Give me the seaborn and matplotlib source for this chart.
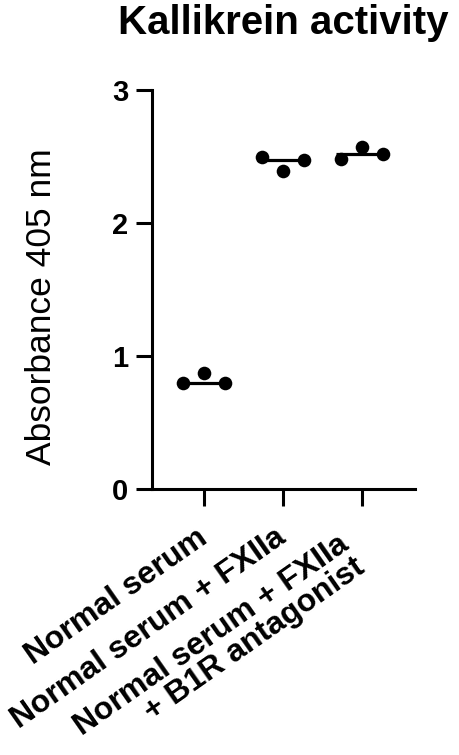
import matplotlib
matplotlib.use("Agg")
import matplotlib.pyplot as plt
import matplotlib.transforms as mtransforms
import seaborn as sns
import pandas as pd

# ---- data ----
groups = ["Normal serum", "Normal serum + FXIIa", "Normal serum + FXIIa\n+ B1R antagonist"]
rep1 = [0.80, 2.50, 2.48]
rep2 = [0.87, 2.39, 2.57]
rep3 = [0.80, 2.47, 2.52]
yticks = [0, 1, 2, 3]
title = "Kallikrein activity"
ylabel = "Absorbance 405 nm"

rows = []
for g, a, b, c in zip(groups, rep1, rep2, rep3):
    rows += [(g, "r1", a), (g, "r2", b), (g, "r3", c)]
df = pd.DataFrame(rows, columns=["group", "rep", "value"])

sns.set_theme(style="ticks")
plt.rcParams["font.family"] = ["Liberation Sans", "DejaVu Sans"]
plt.rcParams["text.color"] = "black"
plt.rcParams["axes.labelcolor"] = "black"
plt.rcParams["xtick.color"] = "black"
plt.rcParams["ytick.color"] = "black"

fig = plt.figure(figsize=(4.59, 7.55), dpi=100)
ax = fig.add_axes([152 / 459, 1 - 489 / 755, 263 / 459, 399 / 755])

# median lines
sns.boxplot(data=df, x="group", y="value", order=groups, ax=ax,
            showbox=False, showcaps=False, showfliers=False, whis=0,
            whiskerprops={"visible": False},
            medianprops={"color": "black", "linewidth": 2.3},
            width=0.67)

# individual replicates
sns.stripplot(data=df, x="group", y="value", hue="rep", order=groups, ax=ax,
              dodge=True, jitter=False, palette=["black"] * 3, size=9.8,
              linewidth=0, legend=False, zorder=3)

ax.set_xlim(-0.658, 2.67)
ax.set_ylim(0, 3)
ax.set_yticks(yticks)
ax.set_yticklabels([str(v) for v in yticks])
ax.set_xlabel("")
ax.set_ylabel(ylabel, fontsize=25.5, labelpad=0, color="black")
ax.yaxis.set_label_coords(-0.357, 0.456)

for s in ["top", "right"]:
    ax.spines[s].set_visible(False)
for s in ["left", "bottom"]:
    ax.spines[s].set_linewidth(2.2)
    ax.spines[s].set_color("black")

ax.tick_params(axis="y", length=11.5, width=2.2, pad=5.5, labelsize=21, colors="black")
ax.tick_params(axis="x", length=12, width=2.2, pad=21, labelsize=23, colors="black")
for t in ax.get_yticklabels():
    t.set_fontweight("bold")
xlabels = ax.get_xticklabels()
for t in xlabels:
    t.set_fontweight("bold")
    t.set_rotation(35)
    t.set_ha("right")
    t.set_va("center")
    t.set_rotation_mode("anchor")
    t.set_multialignment("right")
    t.set_linespacing(0.95)
# the two-line label sits a little lower/left, as in the original
shift = mtransforms.ScaledTranslation(-5.8 / 72, -13 / 72, fig.dpi_scale_trans)
xlabels[-1].set_transform(xlabels[-1].get_transform() + shift)

ax.set_title(title, fontsize=29, fontweight="bold", pad=40, color="black")

fig.savefig("out.png", dpi=100)
